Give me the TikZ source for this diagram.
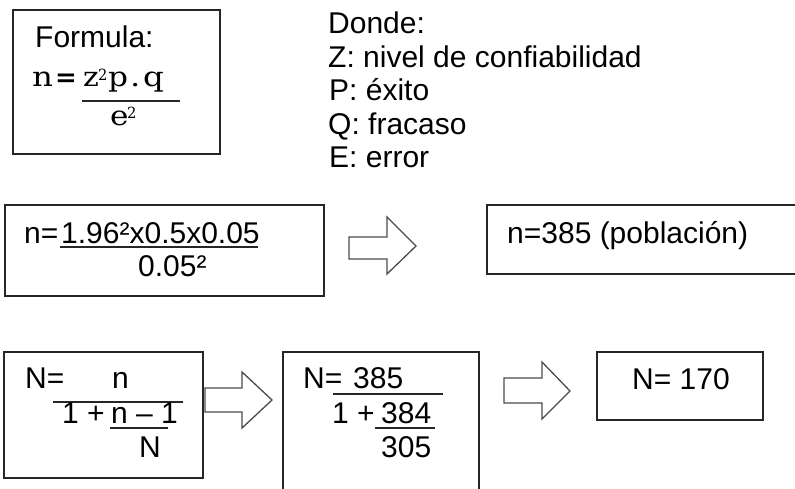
\documentclass[tikz,border=0pt]{standalone}
\usepackage{fontspec}
\newfontfamily\arialf{Liberation Sans}
\newfontfamily\seriff{DejaVu Serif}
\begin{document}
\begin{tikzpicture}[x=1pt,y=-1pt,
  txt/.style={anchor=base west, inner sep=0pt, text=black, font=\arialf\fontsize{30}{33}\selectfont},
  stxt/.style={anchor=base west, inner sep=0pt, text=black, font=\seriff\fontsize{26}{28}\selectfont},
  ssup/.style={anchor=base west, inner sep=0pt, text=black, font=\seriff\fontsize{14}{16}\selectfont},
  box/.style={draw=black!85, line width=1.5pt, anchor=north west, inner sep=0pt},
  fracline/.style={draw=black!85, line width=1.4pt},
  blockarrow/.style={draw=black!70, line width=1.3pt, fill=white, line join=miter}]
\useasboundingbox (0,0) rectangle (795,488);
\fill[white] (0,0) rectangle (795,488);

% boxes
\node[box, minimum width=207pt, minimum height=144pt] (b1) at (12,9) {};
\node[box, minimum width=319pt, minimum height=91pt] (b2) at (4,204) {};
\node[box, minimum width=320pt, minimum height=69pt] (b3) at (486,204) {};
\node[box, minimum width=199pt, minimum height=126pt] (b4) at (3,351) {};
\node[box, minimum width=196pt, minimum height=144pt] (b5) at (282,351) {};
\node[box, minimum width=166pt, minimum height=68pt] (b6) at (596,351) {};

% box 1: formula
\node[txt] (formula) at (35,47) {Formula:};
\node[stxt] (fn) at (32,86) {\scalebox{1.25}[1.05]{n}};
\node[stxt, font=\seriff\bfseries\fontsize{26}{28}\selectfont] (feq) at (55,86) {=};
\node[stxt] (fz) at (83,86) {\scalebox{1.15}[1.05]{z}};
\node[ssup] (fz2) at (98,80) {\scalebox{1.05}[1.1]{2}};
\node[stxt] (fp) at (108,86) {\scalebox{1.2}[1.05]{p}};
\node[stxt] (fdot) at (130,86) {\scalebox{1.25}[1.05]{.}};
\node[stxt] (fq) at (143,86) {\scalebox{1.25}[1.05]{q}};
\coordinate (f1a) at (82,101);
\coordinate (f1b) at (180,101);
\draw[fracline] (f1a) -- (f1b);
\node[stxt] (fe) at (110,125) {\scalebox{1.2}[1.05]{e}};
\node[ssup] (fe2) at (127,118) {\scalebox{1.05}[1.1]{2}};

% legend
\node[txt] (donde) at (328,33.5) {Donde:};
\node[txt] (lz) at (328,67) {Z: nivel de confiabilidad};
\node[txt] (lp) at (329,100.5) {P: éxito};
\node[txt] (lq) at (328,134) {Q: fracaso};
\node[txt] (le) at (329,167.5) {E: error};

% row 2
\node[txt] (r2n) at (24,243) {n=};
\node[txt] (r2num) at (61,243) {1.96²x0.5x0.05};
\coordinate (f2a) at (60,247);
\coordinate (f2b) at (258,247);
\draw[fracline] (f2a) -- (f2b);
\node[txt] (r2den) at (138,276) {0.05²};
\node[txt] (r2res) at (507,243) {n=385 (población)};

% row 3, box 4
\node[txt] (r4N) at (25,388) {N=};
\node[txt] (r4n) at (112,388) {n};
\coordinate (f4a) at (53,402);
\coordinate (f4b) at (183,402);
\draw[fracline] (f4a) -- (f4b);
\node[txt] (r4one) at (62,423) {1 +};
\node[txt] (r4nm) at (111,423) {n – 1};
\coordinate (f4c) at (110,428);
\coordinate (f4d) at (168,428);
\draw[fracline] (f4c) -- (f4d);
\node[txt] (r4NN) at (139,457) {N};

% row 3, box 5
\node[txt] (r5N) at (303,388) {N=};
\node[txt] (r5num) at (353,388) {385};
\coordinate (f5a) at (333,394);
\coordinate (f5b) at (443,394);
\draw[fracline] (f5a) -- (f5b);
\node[txt] (r5one) at (332,423) {1 +};
\node[txt] (r5a) at (381,423) {384};
\coordinate (f5c) at (375,428);
\coordinate (f5d) at (435,428);
\draw[fracline] (f5c) -- (f5d);
\node[txt] (r5b) at (381,457) {305};

% row 3, box 6
\node[txt] (r6) at (632,389) {N= 170};

% block arrows
\draw[blockarrow] (349,237) -- (387,237) -- (387,217) -- (416,246) -- (387,274) -- (387,259) -- (349,259) -- cycle;
\draw[blockarrow] (205,388) -- (242,388) -- (242,372) -- (272,400) -- (242,428) -- (242,412) -- (205,412) -- cycle;
\draw[blockarrow] (504,378) -- (542,378) -- (542,362) -- (570,391) -- (542,419) -- (542,403) -- (504,403) -- cycle;
\end{tikzpicture}
\end{document}
